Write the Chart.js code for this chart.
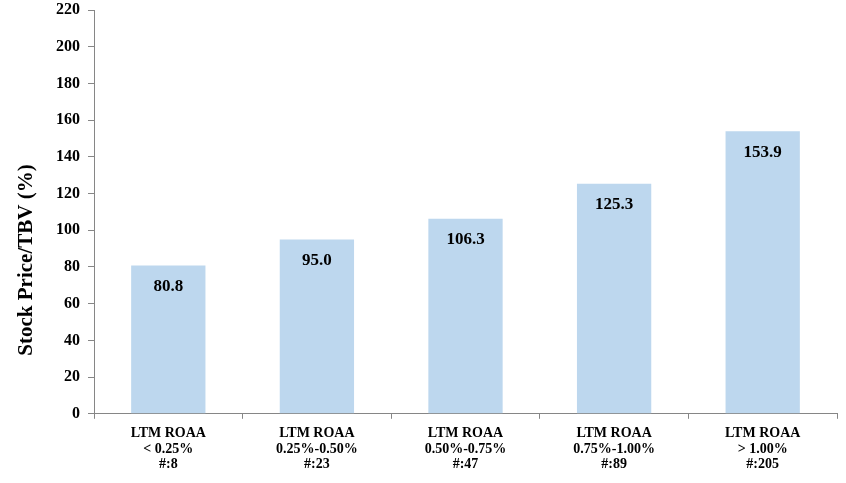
<!DOCTYPE html>
<html>
<head>
<meta charset="utf-8">
<script src="https://cdn.jsdelivr.net/npm/chart.js@4"></script>
<style>
  html, body { margin: 0; padding: 0; background: #fff; }
  #wrap { width: 846px; height: 483px; }
</style>
</head>
<body>
<div id="wrap"><canvas id="myChart" width="846" height="483"></canvas></div>
<script>
const categories = [
  ["LTM ROAA", "< 0.25%", "#:8"],
  ["LTM ROAA", "0.25%-0.50%", "#:23"],
  ["LTM ROAA", "0.50%-0.75%", "#:47"],
  ["LTM ROAA", "0.75%-1.00%", "#:89"],
  ["LTM ROAA", "> 1.00%", "#:205"],
];
const values = [80.8, 95.0, 106.3, 125.3, 153.9];
const yTicks = [0, 20, 40, 60, 80, 100, 120, 140, 160, 180, 200, 220];
const yTitle = "Stock Price/TBV (%)";

const serif = "'Liberation Serif', 'DejaVu Serif', serif";
const axisGray = "#868686";

// value labels just inside the top of each bar
const barLabels = {
  id: "barLabels",
  afterDatasetsDraw(chart) {
    const { ctx } = chart;
    const meta = chart.getDatasetMeta(0);
    ctx.save();
    ctx.font = "bold 17px " + serif;
    ctx.fillStyle = "#000";
    ctx.textAlign = "center";
    ctx.textBaseline = "middle";
    meta.data.forEach((bar, i) => {
      ctx.fillText(values[i].toFixed(1), bar.x, bar.y + 21);
    });
    ctx.restore();
  },
};

// y axis title sits a bit below the middle of the plot, like in Excel
const sideTitle = {
  id: "sideTitle",
  afterDraw(chart) {
    const { ctx } = chart;
    ctx.save();
    ctx.translate(27, 260);
    ctx.rotate(-Math.PI / 2);
    ctx.font = "bold 21px " + serif;
    ctx.fillStyle = "#000";
    ctx.textAlign = "center";
    ctx.textBaseline = "middle";
    ctx.fillText(yTitle, 0, 0);
    ctx.restore();
  },
};

new Chart(document.getElementById("myChart"), {
  type: "bar",
  data: {
    labels: categories,
    datasets: [
      {
        data: values,
        backgroundColor: "#BDD7EE",
        categoryPercentage: 1.0,
        barPercentage: 0.5,
      },
    ],
  },
  options: {
    responsive: false,
    animation: false,
    layout: { padding: { left: 48, right: 9, top: 0, bottom: 4 } },
    plugins: {
      legend: { display: false },
      tooltip: { enabled: false },
    },
    scales: {
      x: {
        grid: {
          drawOnChartArea: false,
          drawTicks: true,
          tickLength: 5,
          color: axisGray,
          offset: true,
        },
        border: { color: axisGray, width: 1 },
        ticks: {
          color: "#000",
          font: { family: serif, size: 14, weight: "bold", lineHeight: 1.1 },
          maxRotation: 0,
          padding: 7,
        },
      },
      y: {
        min: 0,
        max: 220,
        afterBuildTicks(axis) {
          axis.ticks = yTicks.map((v) => ({ value: v }));
        },
        afterFit(axis) {
          // the top tick label may poke above the plot, as in the original
          axis.paddingTop = 10;
        },
        grid: {
          drawOnChartArea: false,
          drawTicks: true,
          tickLength: 6,
          color: axisGray,
        },
        border: { color: axisGray, width: 1 },
        ticks: {
          color: "#000",
          font: { family: serif, size: 16, weight: "bold" },
          padding: 8,
        },
      },
    },
  },
  plugins: [barLabels, sideTitle],
});
</script>
</body>
</html>
